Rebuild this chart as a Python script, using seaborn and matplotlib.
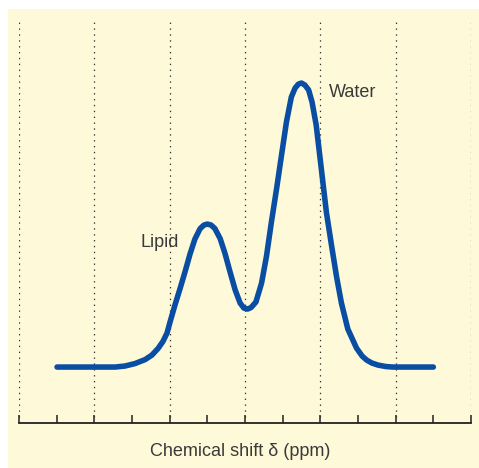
import matplotlib
matplotlib.use("Agg")
import matplotlib.pyplot as plt
from matplotlib.patches import Rectangle
import pandas as pd
import seaborn as sns

# NMR spectrum trace: chemical shift position (axis units) and signal intensity
shift = [1.01, 1.89, 2.55, 2.81, 3.08, 3.35, 3.53, 3.69, 3.82, 3.93,
         4.01, 4.14, 4.28, 4.41, 4.54, 4.67, 4.81, 4.91, 5.00, 5.10,
         5.20, 5.34, 5.47, 5.60, 5.74, 5.87, 5.97, 6.07, 6.16, 6.29,
         6.44, 6.57, 6.70, 6.84, 6.97, 7.10, 7.23, 7.33, 7.42, 7.50,
         7.59, 7.69, 7.78, 7.89, 8.03, 8.16, 8.30, 8.43, 8.56, 8.73,
         8.96, 9.11, 9.23, 9.37, 9.53, 9.74, 9.93, 11.00]
intensity = [0.0, 0.0, 0.0, 0.35, 1.23, 2.64, 4.23, 6.51, 8.98, 11.97,
             15.85, 21.83, 27.82, 33.63, 39.79, 45.07, 48.77, 50.0, 50.35, 50.0,
             48.77, 45.25, 39.96, 33.63, 27.11, 22.54, 20.77, 20.42, 20.95, 22.89,
             29.58, 38.98, 50.95, 62.92, 74.65, 86.27, 95.07, 98.24, 99.65, 100.0,
             99.30, 97.54, 93.31, 85.21, 69.37, 54.58, 42.61, 31.87, 22.54, 13.38,
             6.69, 3.87, 2.46, 1.41, 0.70, 0.18, 0.0, 0.0]

peak_labels = ["Lipid", "Water"]
peak_label_pos = [(3.74, 43.7), (8.87, 96.5)]

x_label = "Chemical shift δ (ppm)"

df = pd.DataFrame({"shift": shift, "intensity": intensity})

sns.set_style("white")
plt.rcParams["font.family"] = ["Liberation Sans", "DejaVu Sans"]

text_color = "#3a3a3a"
bg = "#FEF9D8"
blue = "#0A4EA4"

fig = plt.figure(figsize=(4.79, 4.68), dpi=100)
fig.patch.set_facecolor("white")
fig.patches.append(Rectangle((8 / 479, 0), 1 - 8 / 479, (468 - 9) / 468,
                             transform=fig.transFigure, facecolor=bg,
                             edgecolor="none", zorder=-10))

ax = fig.add_axes([19 / 479, (468 - 423) / 468, (471 - 19) / 479, (423 - 20) / 468])
ax.set_zorder(1)
ax.patch.set_visible(False)

# dotted guides at every second tick
for gx in range(0, 13, 2):
    ax.axvline(gx, color="#333333", lw=0.9, linestyle=(0, (1.1, 3.6)), zorder=1)

sns.lineplot(data=df, x="shift", y="intensity", sort=False, ax=ax,
             color=blue, lw=4.0, solid_capstyle="round", solid_joinstyle="round",
             zorder=3)

for lab, (px, py) in zip(peak_labels, peak_label_pos):
    ax.text(px, py, lab, fontsize=13, color=text_color, ha="center", va="center")

ax.set_xlim(0, 12)
ax.set_ylim(-19.7, 122.2)
ax.set_xticks(range(0, 13))
ax.set_xticklabels([])
ax.set_yticks([])
ax.tick_params(axis="x", direction="in", length=5.5, width=1.1, color="#222222",
               bottom=True)
for side in ["top", "left", "right"]:
    ax.spines[side].set_visible(False)
ax.spines["bottom"].set_color("#222222")
ax.spines["bottom"].set_linewidth(1.3)
ax.set_xlabel("")
ax.set_ylabel("")

fig.text(240 / 479, (468 - 451) / 468, x_label, fontsize=13, color=text_color,
         ha="center", va="center")

fig.savefig("out.png", dpi=100, facecolor="white")
